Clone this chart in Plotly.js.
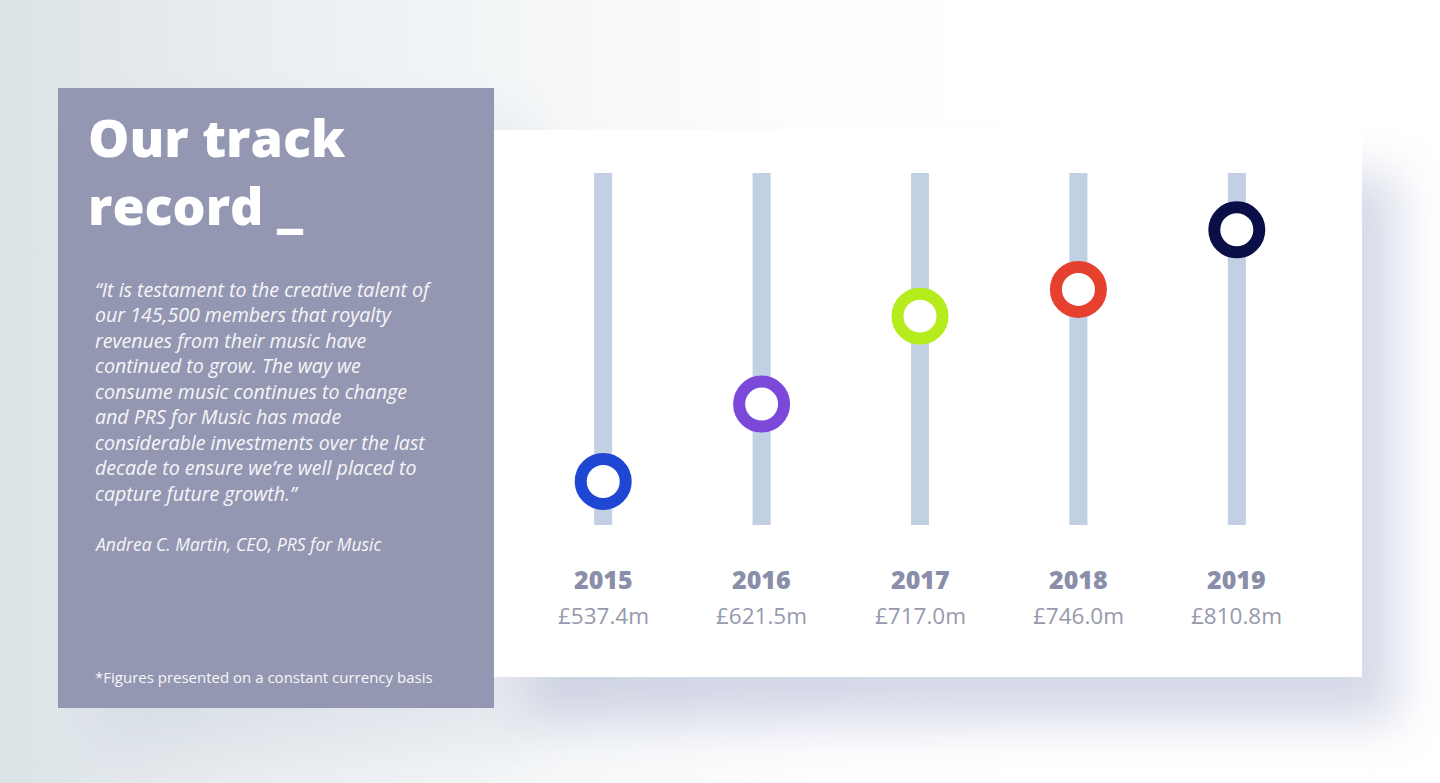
<!DOCTYPE html>
<html>
<head>
<meta charset="utf-8">
<script src="https://cdn.plot.ly/plotly-3.0.1.min.js"></script>
<style>
  html, body { margin: 0; padding: 0; width: 1440px; height: 783px; overflow: hidden; }
  body { background: linear-gradient(90deg, #dce3e7 0%, #e9eef1 18%, #f5f7f8 38%, #fdfdfe 55%, #ffffff 70%); position: relative; }
  #shadowPanel { position: absolute; left: 58px; top: 88px; width: 436px; height: 620px; background: #9497b2; box-shadow: 40px 35px 50px rgba(130,140,180,0.12); }
  #shadowCard { position: absolute; left: 494px; top: 130px; width: 868px; height: 547px; background: #ffffff; box-shadow: 35px 45px 45px rgba(130,140,185,0.33); }
  #chart { position: absolute; left: 0; top: 0; width: 1440px; height: 783px; }
</style>
</head>
<body>
<div id="shadowPanel"></div>
<div id="shadowCard"></div>
<div id="chart"></div>
<script>
// ---- data ----
const years = ['2015', '2016', '2017', '2018', '2019'];
const revenue = [537.4, 621.5, 717.0, 746.0, 810.8];          // £m
const revenueLabels = ['£537.4m', '£621.5m', '£717.0m', '£746.0m', '£810.8m'];
const ringColors = ['#1f47d3', '#7b48d9', '#b5ec1b', '#e6402f', '#0b0f47'];
const titleLines = ['Our track', 'record _'];
const quoteLines = [
  '“It is testament to the creative talent of',
  'our 145,500 members that royalty',
  'revenues from their music have',
  'continued to grow. The way we',
  'consume music continues to change',
  'and PRS for Music has made',
  'considerable investments over the last',
  'decade to ensure we’re well placed to',
  'capture future growth.”'
];
const attribution = 'Andrea C. Martin, CEO, PRS for Music';
const footnote = '*Figures presented on a constant currency basis';

// ---- layout geometry (pixels) ----
const W = 1440, H = 783;
const L = 524, R = 1316, T = 173, B = 525;
const px = x => (x - L) / (R - L);
const py = y => (B - y) / (B - T);
const idx = years.map((_, i) => i);

const shapes = [];
// left panel
shapes.push({type: 'rect', xref: 'paper', yref: 'paper', x0: px(58), x1: px(494), y0: py(708), y1: py(88),
  fillcolor: '#9497b2', line: {width: 0}, layer: 'below'});
// white card
shapes.push({type: 'rect', xref: 'paper', yref: 'paper', x0: px(494), x1: px(1362), y0: py(677), y1: py(130),
  fillcolor: '#ffffff', line: {width: 0}, layer: 'below'});
// vertical tracks
idx.forEach(i => shapes.push({type: 'rect', xref: 'x', yref: 'paper', x0: i - 0.057, x1: i + 0.057, y0: 0, y1: 1,
  fillcolor: '#c2d0e3', line: {width: 0}, layer: 'below'}));

const annotations = [];
annotations.push({
  xref: 'paper', yref: 'paper', x: px(86), y: py(170), xanchor: 'left', yanchor: 'middle', align: 'left',
  text: titleLines.join('<br>'), showarrow: false,
  font: {family: 'Open Sans, sans-serif', size: 52, color: '#ffffff', weight: 800}
});
annotations.push({
  xref: 'paper', yref: 'paper', x: px(93), y: py(391), xanchor: 'left', yanchor: 'middle', align: 'left',
  text: '<i>' + quoteLines.join('<br>') + '</i>', showarrow: false,
  font: {family: 'Open Sans, sans-serif', size: 19.6, color: '#f6f6f9', weight: 500}
});
annotations.push({
  xref: 'paper', yref: 'paper', x: px(93), y: py(544), xanchor: 'left', yanchor: 'middle',
  text: '<i>' + attribution + '</i>', showarrow: false,
  font: {family: 'Open Sans, sans-serif', size: 17.5, color: '#f6f6f9', weight: 500}
});
annotations.push({
  xref: 'paper', yref: 'paper', x: px(93), y: py(677), xanchor: 'left', yanchor: 'middle',
  text: footnote, showarrow: false,
  font: {family: 'Open Sans, sans-serif', size: 15, color: '#f6f6f9', weight: 500}
});
idx.forEach(i => {
  annotations.push({xref: 'x', yref: 'paper', x: i, y: py(579), xanchor: 'center', yanchor: 'middle',
    text: years[i], showarrow: false,
    font: {family: 'Open Sans, sans-serif', size: 25, color: '#8a8ea9', weight: 800}});
  annotations.push({xref: 'x', yref: 'paper', x: i, y: py(615), xanchor: 'center', yanchor: 'middle',
    text: revenueLabels[i], showarrow: false,
    font: {family: 'Open Sans, sans-serif', size: 22.5, color: '#9799ad', weight: 400}});
});

const trace = {
  type: 'scatter', mode: 'markers', x: idx, y: revenue, cliponaxis: false,
  hoverinfo: 'skip',
  marker: {size: 45, color: '#ffffff', line: {width: 12, color: ringColors}}
};

const layout = {
  width: W, height: H,
  margin: {l: L, r: W - R, t: T, b: H - B, pad: 0},
  paper_bgcolor: 'rgba(0,0,0,0)', plot_bgcolor: 'rgba(0,0,0,0)',
  showlegend: false,
  xaxis: {range: [-0.5, 4.5], visible: false, fixedrange: true},
  yaxis: {range: [490.1, 872.5], visible: false, fixedrange: true},
  shapes: shapes, annotations: annotations
};

Plotly.newPlot('chart', [trace], layout, {displayModeBar: false, staticPlot: true});
</script>
</body>
</html>
